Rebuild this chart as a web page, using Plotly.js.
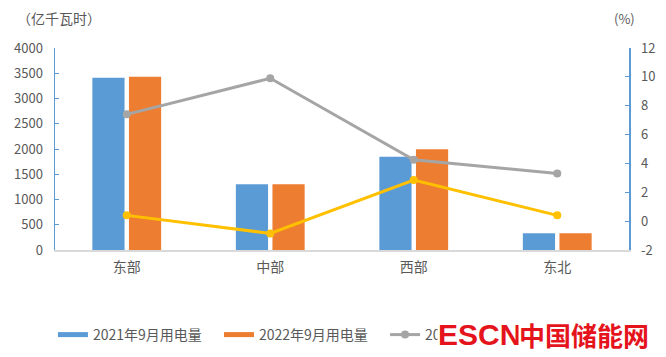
<!DOCTYPE html>
<html>
<head>
<meta charset="utf-8">
<script src="https://cdn.plot.ly/plotly-3.0.1.min.js"></script>
<style>
html,body{margin:0;padding:0;background:#fff;}
#chart{width:666px;height:357px;}
</style>
</head>
<body>
<div id="chart"></div>
<script>
// ---- data ----
const regions = ["东部", "中部", "西部", "东北"];
const use2021Sep = [3412, 1301, 1848, 330];
const use2022Sep = [3432, 1301, 1994, 330];
const growthA = [7.4, 9.9, 4.25, 3.3];
const growthB = [0.4, -0.85, 2.85, 0.4];
const seriesNames = ["2021年9月用电量", "2022年9月用电量", "2021年增速", "2022年增速"];
const leftTicks = [0, 500, 1000, 1500, 2000, 2500, 3000, 3500, 4000];
const rightTicks = [-2, 0, 2, 4, 6, 8, 10, 12];

const font = "Noto Sans CJK SC, Noto Sans, sans-serif";
const txt = "#595959";
const axisBlue = "#5b9bd5";
const pad = "\u00a0\u00a0\u00a0\u2009";

const traces = [
  {type: "bar", x: regions, y: use2021Sep, name: seriesNames[0], marker: {color: "#5b9bd5"}, yaxis: "y",
   legendgroup: "a", showlegend: false},
  {type: "bar", x: regions, y: use2022Sep, name: seriesNames[1], marker: {color: "#ed7d31"}, yaxis: "y",
   legendgroup: "b", showlegend: false},
  // legend-only entries drawn as thick line samples, like the reference legend
  {type: "scatter", mode: "lines", x: [null], y: [null], name: seriesNames[0] + pad, legendgroup: "a",
   line: {color: "#5b9bd5", width: 5}, hoverinfo: "skip"},
  {type: "scatter", mode: "lines", x: [null], y: [null], name: seriesNames[1] + pad, legendgroup: "b",
   line: {color: "#ed7d31", width: 5}, hoverinfo: "skip"},
  {type: "scatter", mode: "lines+markers", x: regions, y: growthA, name: seriesNames[2], yaxis: "y2",
   line: {color: "#a5a5a5", width: 3}, marker: {color: "#a5a5a5", size: 8}},
  {type: "scatter", mode: "lines+markers", x: regions, y: growthB, name: seriesNames[3], yaxis: "y2",
   line: {color: "#ffc000", width: 3}, marker: {color: "#ffc000", size: 8}}
];

const layout = {
  width: 666, height: 357,
  margin: {l: 55, r: 37, t: 48, b: 107, pad: 0},
  paper_bgcolor: "#fff", plot_bgcolor: "#fff",
  font: {family: font, size: 13, color: txt},
  barmode: "group", bargap: 0.49, bargroupgap: 0.12,
  showlegend: true,
  legend: {orientation: "h", xref: "container", yref: "container", x: 0.0795, xanchor: "left",
           y: (357 - 335) / 357, yanchor: "middle",
           font: {size: 14, color: txt, family: font}, traceorder: "normal"},
  xaxis: {type: "category", showline: true, linecolor: "#d9d9d9", linewidth: 1.5, ticks: "",
          showgrid: false, zeroline: false, tickfont: {size: 14, color: txt}, ticklabelstandoff: 4},
  yaxis: {range: [0, 4000], tickvals: leftTicks, ticktext: leftTicks.map(String), showgrid: false, zeroline: false,
          showline: true, linecolor: axisBlue, linewidth: 1.5, ticks: "inside", ticklen: 4, tickcolor: axisBlue,
          tickfont: {size: 13, color: txt}, ticklabelstandoff: 8},
  yaxis2: {range: [-2, 12], tickvals: rightTicks, ticktext: rightTicks.map(String), overlaying: "y", side: "right",
           showgrid: false, zeroline: false, showline: true, linecolor: axisBlue, linewidth: 1.5,
           ticks: "inside", ticklen: 4, tickcolor: axisBlue, tickfont: {size: 13, color: txt}, ticklabelstandoff: 8},
  annotations: [
    {text: "（亿千瓦时）", xref: "paper", yref: "paper", x: (15 - 55) / 574, y: (250 - 18) / 202,
     xanchor: "left", yanchor: "middle", showarrow: false, font: {size: 14, color: txt, family: font}},
    {text: "(%)", xref: "paper", yref: "paper", x: (624 - 55) / 574, y: (250 - 18) / 202,
     xanchor: "center", yanchor: "middle", showarrow: false, font: {size: 13, color: txt, family: font}},
    {text: "<b>ESCN</b>", xref: "paper", yref: "paper", x: (437 - 55) / 574, y: (250 - 334) / 202,
     xanchor: "left", yanchor: "middle", showarrow: false, bgcolor: "#fff", borderpad: 0,
     font: {size: 30, color: "#e5141c", family: "Liberation Sans, Arial, sans-serif"}},
    {text: "<b>中国储能网</b>", xref: "paper", yref: "paper", x: (518 - 55) / 574, y: (250 - 334) / 202,
     xanchor: "left", yanchor: "middle", showarrow: false, bgcolor: "#fff", borderpad: 0,
     font: {size: 26, color: "#e5141c", family: "Noto Sans CJK SC, sans-serif"}}
  ]
};

Plotly.newPlot("chart", traces, layout, {displayModeBar: false, staticPlot: true});
</script>
</body>
</html>
